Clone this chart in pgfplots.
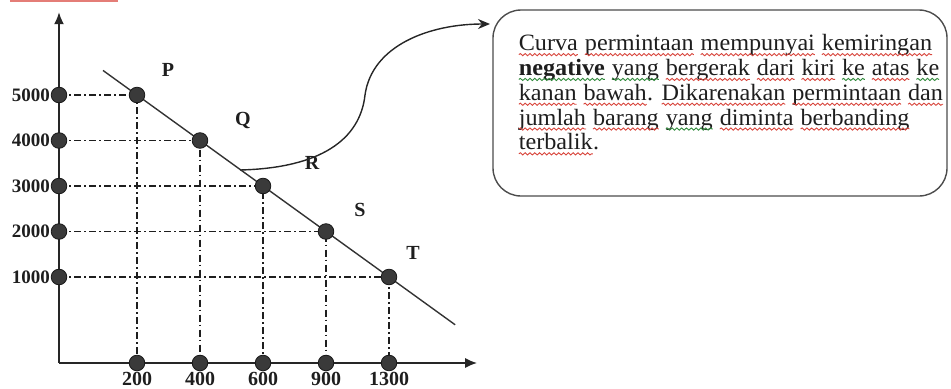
\documentclass[border=0pt]{standalone}
\usepackage{pgfplots}
\pgfplotsset{compat=1.18}
\usepackage{pgfplotstable}
\usepackage{fontspec}
\setmainfont{Liberation Serif}
\newfontfamily\notefont[FakeStretch=1.034]{Liberation Serif}
\usetikzlibrary{arrows.meta,decorations.pathmorphing}

\definecolor{ink}{HTML}{1E1E1E}
\definecolor{dotfill}{HTML}{3A3A3A}
\definecolor{spellred}{HTML}{D8453C}
\definecolor{grammargreen}{HTML}{2F8A3B}

% a word with a wavy underline, as left by a spell checker
\newcommand\wv[2]{\tikz[baseline=(w.base)]{%
  \node[inner sep=0pt, outer sep=0pt, anchor=base, text=ink] (w) {#2};
  \draw[draw=#1, line width=0.45pt, decorate,
        decoration={snake, amplitude=0.55pt, segment length=2.4pt}]
    ([yshift=-2pt]w.base west) -- ([yshift=-2pt]w.base east);}}
\newcommand\rw[1]{\wv{spellred}{#1}}
\newcommand\gw[1]{\wv{grammargreen}{#1}}

% demand schedule: position on the drawing, quantity, price, point name
\pgfplotstableread{
qpos ppos qty  price name
1    5    200  5000  P
2    4    400  4000  Q
3    3    600  3000  R
4    2    900  2000  S
5    1    1300 1000  T
}\demand

\begin{document}
\begin{tikzpicture}
\begin{axis}[
  x=31.5pt, y=22.75pt,
  xmin=-0.238, xmax=6.4,
  ymin=-0.89, ymax=6.82,
  axis lines=left,
  axis line style={line width=0.9pt, draw=black!85, -{Latex[length=6pt,width=5pt]}},
  clip=false,
  xtick={1,2,3,4,5},
  xticklabels={200,400,600,900,1300},
  ytick={1,2,3,4,5},
  yticklabels={1000,2000,3000,4000,5000},
  major tick length=0pt,
  tick label style={font=\bfseries\fontsize{9.5}{10}\selectfont, text=ink},
  xticklabel style={yshift=-1pt, font=\bfseries\fontsize{10}{10}\selectfont},
  yticklabel style={xshift=-1pt},
  guide/.style={line width=0.6pt, draw=ink,
    dash pattern=on 3.5pt off 1.6pt on 0.8pt off 1.6pt},
  dot/.style={only marks, mark=*, mark size=3.9pt,
    mark options={fill=dotfill, draw=black!90, line width=0.4pt}},
]
% dash-dot guides from each point to both axes
\addplot[guide] coordinates {(-0.238,5) (1,5) (1,-0.89)};
\addplot[guide] coordinates {(-0.238,4) (2,4) (2,-0.89)};
\addplot[guide] coordinates {(-0.238,3) (3,3) (3,-0.89)};
\addplot[guide] coordinates {(-0.238,2) (4,2) (4,-0.89)};
\addplot[guide] coordinates {(-0.238,1) (5,1) (5,-0.89)};

% demand curve
\addplot[line width=0.7pt, draw=black!80] coordinates {(0.46,5.54) (6.05,-0.05)};

% points on the curve and their marks on the axes
\addplot[dot] table[x=qpos, y=ppos] {\demand};
\addplot[dot] table[x=qpos, y expr=-0.89] {\demand};
\addplot[dot] table[x expr=-0.238, y=ppos] {\demand};

% point names
\begin{scope}[every node/.style={font=\bfseries\fontsize{10}{12}\selectfont, text=ink}]
\node at (axis cs:1.49,5.55) {P};
\node at (axis cs:2.68,4.45) {Q};
\node at (axis cs:3.78,3.50) {R};
\node at (axis cs:4.54,2.47) {S};
\node at (axis cs:5.38,1.53) {T};
\end{scope}

\coordinate (O) at (axis cs:-1.1746,7.0879);
\end{axis}

% callout, on a grid whose origin is the top left corner of the figure
\begin{scope}[shift={(O)}, x=0.5pt, y=-0.5pt]
  \draw[line width=0.7pt, draw=black!85, -{Stealth[length=6pt,width=5pt]}]
    (240,170) .. controls (320,168) and (360,140) .. (365,95)
              .. controls (372,45) and (430,24) .. (490,24);
  \draw[rounded corners=14pt, line width=0.7pt, draw=black!70]
    (493,10) rectangle (947,196);
  \node[anchor=north west, align=left, inner sep=0pt, text=ink,
        font=\notefont\fontsize{11.7}{12.4}\selectfont] at (518,34) {%
    \rw{Curva} \rw{permintaan} \rw{mempunyai} \rw{kemiringan}\\
    \gw{\textbf{negative}} \gw{yang} \rw{bergerak} \rw{dari} \rw{kiri} \gw{ke} \rw{atas} \gw{ke}\\
    \rw{kanan} \rw{bawah}. \rw{Dikarenakan} \rw{permintaan} \rw{dan}\\
    \rw{jumlah} \rw{barang} \gw{yang} \rw{diminta} \rw{berbanding}\\
    \rw{terbalik}.};
  \draw[spellred!70, line width=0.8pt] (10,1) -- (118,1);
  \pgfresetboundingbox
  \path[use as bounding box] (0,0) rectangle (951,388);
\end{scope}
\end{tikzpicture}
\end{document}
